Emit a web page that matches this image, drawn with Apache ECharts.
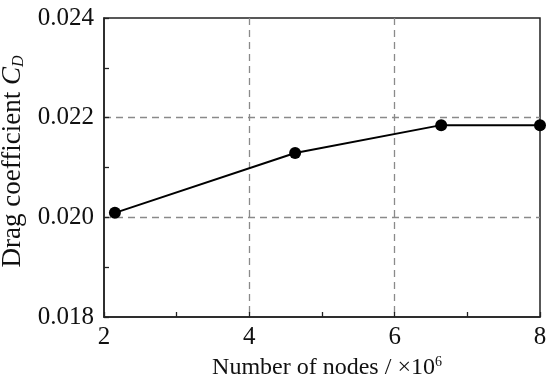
<!DOCTYPE html>
<html>
<head>
<meta charset="utf-8">
<script src="https://cdn.jsdelivr.net/npm/echarts@6/dist/echarts.min.js"></script>
<style>
  html, body { margin: 0; padding: 0; background: #fff; }
  #chart { width: 550px; height: 387px; }
</style>
</head>
<body>
<div id="chart"></div>
<script>
// 网格节点数 (×10^6) 和阻力系数
const nodes = [2.15, 4.63, 6.64, 8.0]
const dragCoef = [0.02009, 0.02129, 0.02185, 0.02185]

const xTicks = [2, 4, 6, 8]
const yTicks = [0.018, 0.020, 0.022, 0.024]

const serif = '"Liberation Serif", "Times New Roman", serif'
const dashLine = {
  show: true, showMinLine: false, showMaxLine: false,
  lineStyle: { color: '#8a8a8a', width: 1.3, type: [7, 5] }
}

const chart = echarts.init(document.getElementById('chart'))
chart.setOption({
  animation: false,
  grid: {
    left: 104, right: 10, top: 18, bottom: 70,
    outerBoundsMode: 'none',
    containLabel: false,
    show: true, borderColor: '#222', borderWidth: 1.5, backgroundColor: 'transparent'
  },
  xAxis: {
    type: 'value',
    min: xTicks[0],
    max: xTicks[xTicks.length - 1],
    interval: 2,
    name: '{t|Number of nodes / ×10}{sup|6}',
    nameLocation: 'middle',
    nameGap: 29,
    nameTextStyle: {
      padding: [0, 0, 0, 10],
      rich: {
        t: { fontFamily: serif, fontSize: 24, color: '#111' },
        sup: { fontFamily: serif, fontSize: 14, color: '#111', verticalAlign: 'top', padding: [0, 0, 11, 0] }
      }
    },
    axisLine: { lineStyle: { color: '#222', width: 1.5 } },
    axisTick: { inside: true, length: 5, lineStyle: { color: '#222', width: 1.3 } },
    minorTick: { show: true, splitNumber: 2, length: 5, lineStyle: { color: '#222', width: 1.3 } },
    axisLabel: { fontFamily: serif, fontSize: 25, color: '#111', margin: 8 },
    splitLine: dashLine
  },
  yAxis: {
    type: 'value',
    min: yTicks[0],
    max: yTicks[yTicks.length - 1],
    interval: 0.002,
    name: '{t|Drag coefficient }{c|C}{d|D}',
    nameLocation: 'middle',
    nameGap: 73,
    nameTextStyle: {
      padding: [0, 0, 0, 12],
      rich: {
        t: { fontFamily: serif, fontSize: 27, color: '#111' },
        c: { fontFamily: serif, fontSize: 27, color: '#111', fontStyle: 'italic' },
        d: { fontFamily: serif, fontSize: 16, color: '#111', fontStyle: 'italic', verticalAlign: 'bottom', padding: [10, 0, 0, 0] }
      }
    },
    axisLine: { lineStyle: { color: '#222', width: 1.5 } },
    axisTick: { inside: true, length: 5, lineStyle: { color: '#222', width: 1.3 } },
    minorTick: { show: true, splitNumber: 2, length: 5, lineStyle: { color: '#222', width: 1.3 } },
    axisLabel: {
      fontFamily: serif, fontSize: 25, color: '#111', margin: 10,
      formatter: v => v.toFixed(3)
    },
    splitLine: dashLine
  },
  series: [{
    type: 'line',
    data: nodes.map((x, i) => [x, dragCoef[i]]),
    symbol: 'circle',
    symbolSize: 12,
    itemStyle: { color: '#000' },
    lineStyle: { color: '#000', width: 2 },
    z: 5
  }]
})
</script>
</body>
</html>
